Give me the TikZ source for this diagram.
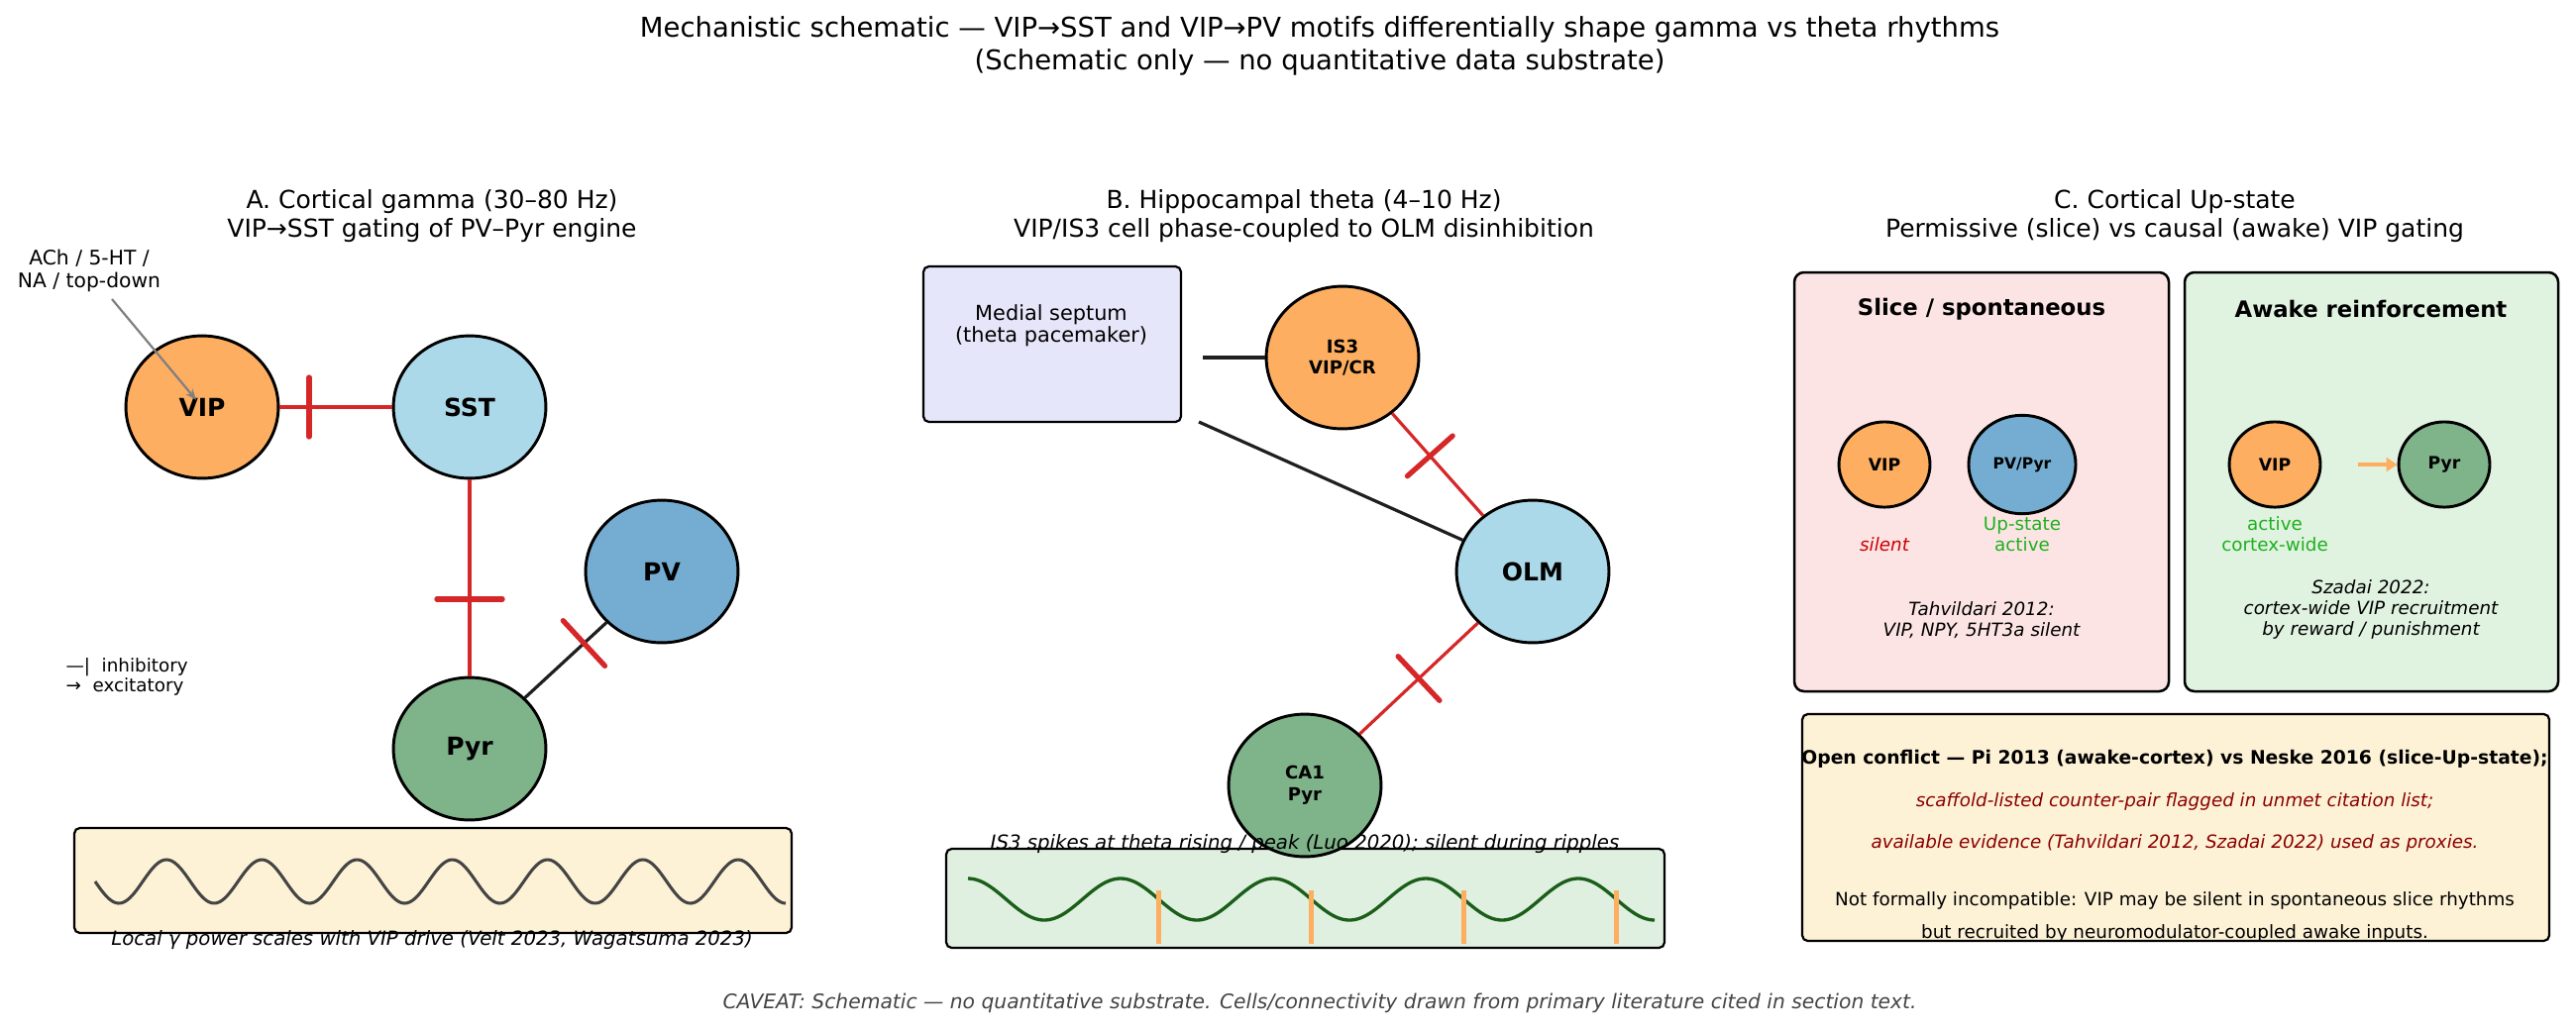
\documentclass[tikz,border=0pt]{standalone}
\usepackage{fontspec}
\setmainfont{DejaVu Sans}[ItalicFont={DejaVu Sans Oblique},BoldFont={DejaVu Sans Bold},BoldItalicFont={DejaVu Sans Bold Oblique}]
\usetikzlibrary{shapes.geometric,calc,arrows.meta}

\definecolor{cvip}{HTML}{FDAE61}
\definecolor{csst}{HTML}{ABD9E9}
\definecolor{cpv}{HTML}{74ADD1}
\definecolor{cpyr}{HTML}{7FB38A}
\definecolor{inh}{HTML}{D62728}
\definecolor{cream}{HTML}{FDF2D6}
\definecolor{lav}{HTML}{E6E6FA}
\definecolor{pinkbg}{HTML}{FCE4E4}
\definecolor{greenbg}{HTML}{E0F2E0}
\definecolor{thetabg}{HTML}{E0F0E0}
\definecolor{thetaline}{HTML}{1A5E1A}
\definecolor{txtgreen}{HTML}{1EB01E}
\definecolor{txtred}{HTML}{CC0000}
\definecolor{dred}{HTML}{8B0000}
\definecolor{gammaline}{HTML}{444444}

\tikzset{
  ttl/.style={font=\fontsize{9.9}{11.9}\selectfont, align=center, inner sep=0pt},
  ptl/.style={font=\fontsize{9}{10.2}\selectfont, align=center, inner sep=0pt},
  cell/.style={ellipse, draw=black, line width=1.05pt, inner sep=0pt,
    minimum width=55.4pt, minimum height=51.8pt,
    font=\bfseries\fontsize{9}{10}\selectfont, align=center},
  smallcell/.style={cell, font=\bfseries\fontsize{6.5}{7.8}\selectfont},
  ccell/.style={cell, minimum width=33.1pt, minimum height=31pt,
    font=\bfseries\fontsize{6.2}{7}\selectfont},
  inhl/.style={draw=inh, line width=1.15pt},
  excl/.style={draw=black!88, line width=1.15pt},
  tickbar/.style={draw=inh, line width=1.9pt, line cap=round},
  smalltxt/.style={font=\fontsize{6.6}{7.6}\selectfont, align=center, inner sep=0pt},
  captxt/.style={font=\itshape\fontsize{7.1}{8.5}\selectfont, align=center, inner sep=0pt},
  panelbox/.style={draw=black, line width=0.9pt, rounded corners=3.5pt},
  smallbox/.style={draw=black, line width=0.8pt, rounded corners=2pt},
}

\begin{document}
\begin{tikzpicture}[x=0.36pt,y=-0.36pt]
\useasboundingbox (0,0) rectangle (2600,1042);

% ---------- main title ----------
\node[ttl] (title) at (1332,46.5) {Mechanistic schematic — VIP→SST and VIP→PV motifs differentially shape gamma vs theta rhythms\\(Schematic only — no quantitative data substrate)};

% ---------- Panel A ----------
\node[ptl] (ta) at (436,218) {A. Cortical gamma (30–80 Hz)\\VIP→SST gating of PV–Pyr engine};

\node[cell, fill=cvip] (vip) at (204,411) {VIP};
\node[cell, fill=csst] (sst) at (474,411) {SST};
\node[cell, fill=cpv] (pv) at (668,577) {PV};
\node[cell, fill=cpyr] (pyr) at (474,756) {Pyr};

\draw[inhl] (vip) -- (sst);
\coordinate (t1) at ($(vip)!0.4!(sst)$);
\draw[tickbar] ($(t1)!10.8pt!90:(sst)$) -- ($(t1)!10.8pt!-90:(sst)$);

\draw[inhl] (sst) -- (pyr);
\coordinate (t2) at ($(sst)!0.562!(pyr)$);
\draw[tickbar] ($(t2)!11.9pt!90:(pyr)$) -- ($(t2)!11.9pt!-90:(pyr)$);

\draw[excl] (pyr) -- (pv);
\coordinate (t3) at ($(pyr)!0.595!(pv)$);
\draw[tickbar] ($(t3)!11.2pt!90:(pv)$) -- ($(t3)!11.2pt!-90:(pv)$);

\node[font=\fontsize{7.3}{8.3}\selectfont, align=center, inner sep=0pt] (ach) at (90,273) {ACh / 5-HT /\\NA / top-down};
\coordinate (achs) at (113,302);
\draw[draw=gray, line width=0.8pt, -{Stealth[length=4pt,width=3.2pt]}, shorten >=3.4pt] (achs) -- (vip.center);

\node[font=\fontsize{6.6}{7.2}\selectfont, align=left, anchor=west, inner sep=0pt] (legend) at (66,683) {—|\ \ inhibitory\\→\ \ excitatory};

\draw[smallbox, fill=cream] (75,836) rectangle (799,942);
\draw[gammaline, line width=1.1pt] plot[domain=96:793, samples=300] (\x, {890+22*sin(3.74462*(\x-96))});
\node[captxt] (capa) at (436,949) {Local γ power scales with VIP drive (Velt 2023, Wagatsuma 2023)};

% ---------- Panel B ----------
\node[ptl] (tb) at (1316,218) {B. Hippocampal theta (4–10 Hz)\\VIP/IS3 cell phase-coupled to OLM disinhibition};

\draw[smallbox, fill=lav] (932,269) rectangle (1192,426);
\node[font=\fontsize{7.5}{8}\selectfont, align=center, inner sep=0pt] (ms) at (1061,329) {Medial septum\\(theta pacemaker)};

\draw[smallbox, fill=thetabg] (955,857) rectangle (1680,957);
\draw[thetaline, line width=1.2pt] plot[domain=977:1670, samples=300] (\x, {908-21*cos(2.33766*(\x-977))});
\foreach \k in {1,...,4} {
  \draw[cvip, line width=1.7pt] ({977+154*(\k+0.25)},899) -- ({977+154*(\k+0.25)},953);
}

\node[smallcell, fill=cvip] (is3) at (1355,361) {IS3\\VIP/CR};
\node[cell, fill=csst] (olm) at (1547,577) {OLM};
\node[smallcell, fill=cpyr] (ca1) at (1317,793) {CA1\\Pyr};

\coordinate (ms1) at (1214,361);
\coordinate (ms2) at (1210,426);
\draw[excl] (ms1) -- (is3);
\draw[excl] (ms2) -- (olm);

\draw[inhl] (is3) -- (olm);
\coordinate (t4) at ($(is3)!0.46!(olm)$);
\draw[tickbar] ($(t4)!11pt!90:(olm)$) -- ($(t4)!11pt!-90:(olm)$);

\draw[inhl] (olm) -- (ca1);
\coordinate (t5) at ($(olm)!0.5!(ca1)$);
\draw[tickbar] ($(t5)!11pt!90:(ca1)$) -- ($(t5)!11pt!-90:(ca1)$);

\node[captxt] (capb) at (1317,852) {IS3 spikes at theta rising / peak (Luo 2020); silent during ripples};

% ---------- Panel C ----------
\node[ptl] (tc) at (2195,218) {C. Cortical Up-state\\Permissive (slice) vs causal (awake) VIP gating};

\draw[panelbox, fill=pinkbg] (1811,275) rectangle (2189,698);
\draw[panelbox, fill=greenbg] (2205,275) rectangle (2582,698);

\node[font=\bfseries\fontsize{8.2}{9}\selectfont, inner sep=0pt] (slicet) at (2000,312) {Slice / spontaneous};
\node[font=\bfseries\fontsize{8.2}{9}\selectfont, inner sep=0pt] (awaket) at (2393,312) {Awake reinforcement};

\node[ccell, fill=cvip] (cvipa) at (1902,469) {VIP};
\node[ccell, fill=cpv, minimum width=38.9pt, minimum height=35.8pt, font=\bfseries\fontsize{5.6}{6.5}\selectfont] (cpvpyr) at (2041,469) {PV/Pyr};
\node[smalltxt, font=\itshape\fontsize{6.6}{7.6}\selectfont, text=txtred] (silent) at (1902,550) {silent};
\node[smalltxt, text=txtgreen] (upact) at (2041,539.5) {Up-state\\active};
\node[smalltxt, font=\itshape\fontsize{6.6}{7.8}\selectfont] (tahv) at (2000,626) {Tahvildari 2012:\\VIP, NPY, 5HT3a silent};

\node[ccell, fill=cvip] (cvipb) at (2296,469) {VIP};
\node[ccell, fill=cpyr] (cpyrb) at (2467,469) {Pyr};
\draw[cvip, line width=1.2pt, -{Triangle[length=4pt,width=5pt]}, shorten <=13.3pt] (cvipb) -- (cpyrb);
\node[smalltxt, text=txtgreen] (actcw) at (2296,539.5) {active\\cortex-wide};
\node[smalltxt, font=\itshape\fontsize{6.6}{7.7}\selectfont] (szadai) at (2393,615.5) {Szadai 2022:\\cortex-wide VIP recruitment\\by reward / punishment};

\draw[smallbox, fill=cream] (1819,721) rectangle (2573,950);
\node[font=\bfseries\fontsize{6.75}{7.6}\selectfont, inner sep=0pt] (conf1) at (2195,766) {Open conflict — Pi 2013 (awake-cortex) vs Neske 2016 (slice-Up-state);};
\node[font=\itshape\fontsize{6.6}{7.6}\selectfont, text=dred, inner sep=0pt] (conf2) at (2195,809) {scaffold-listed counter-pair flagged in unmet citation list;};
\node[font=\itshape\fontsize{6.6}{7.6}\selectfont, text=dred, inner sep=0pt] (conf3) at (2195,851) {available evidence (Tahvildari 2012, Szadai 2022) used as proxies.};
\node[font=\fontsize{6.6}{7.6}\selectfont, inner sep=0pt] (conf4) at (2195,909) {Not formally incompatible: VIP may be silent in spontaneous slice rhythms};
\node[font=\fontsize{6.6}{7.6}\selectfont, inner sep=0pt] (conf5) at (2195,942) {but recruited by neuromodulator-coupled awake inputs.};

% ---------- caveat ----------
\node[font=\itshape\fontsize{7.3}{8.5}\selectfont, text=gammaline, inner sep=0pt] (caveat) at (1332,1013) {CAVEAT: Schematic — no quantitative substrate. Cells/connectivity drawn from primary literature cited in section text.};
\end{tikzpicture}
\end{document}
